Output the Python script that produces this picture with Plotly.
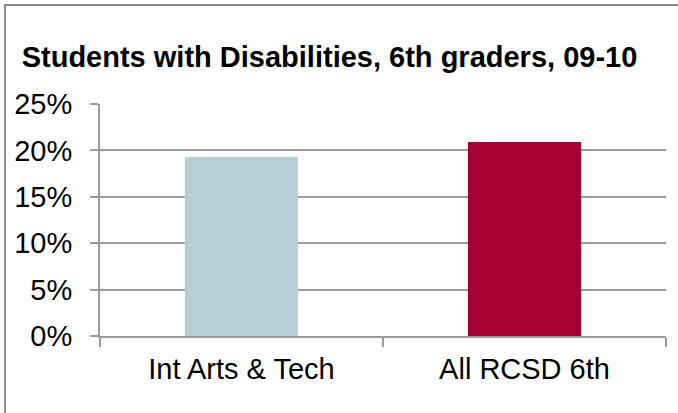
import plotly.graph_objects as go

# Share of 6th graders who are students with disabilities, 2009-10
categories = ["Int Arts & Tech", "All RCSD 6th"]
shares = [0.193, 0.209]
bar_colors = ["#B4CFD5", "#A50034"]
y_ticks = [0, 0.05, 0.10, 0.15, 0.20, 0.25]

W, H = 678, 413
GRID = "#9B9B9B"
FONT = "Liberation Sans, Arial, sans-serif"
FS = 29

fig = go.Figure(
    go.Bar(
        x=categories,
        y=shares,
        marker=dict(color=bar_colors, line=dict(width=0)),
        width=0.4,
        hoverinfo="x+y",
    )
)

fig.update_layout(
    width=W,
    height=H,
    margin=dict(l=100, r=12, t=104, b=77, pad=0),
    paper_bgcolor="white",
    plot_bgcolor="white",
    font=dict(family=FONT, size=FS, color="#000000"),
    showlegend=False,
    title=dict(
        text="<b>Students with Disabilities, 6th graders, 09-10</b>",
        font=dict(family=FONT, size=FS, color="#000000"),
        x=329.5 / W,
        xanchor="center",
        y=1 - 57 / H,
        yanchor="middle",
        xref="container",
        yref="container",
    ),
    shapes=[
        # outer chart frame (only its top and left edges fall inside the page)
        dict(
            type="rect",
            xref="paper",
            yref="paper",
            x0=(5 - 100) / 566,
            x1=(720 - 100) / 566,
            y0=(336 - 460) / 232,
            y1=(336 - 5) / 232,
            line=dict(color="#8C8C8C", width=2),
            fillcolor="rgba(0,0,0,0)",
            layer="below",
        )
    ],
)

fig.update_xaxes(
    type="category",
    showline=True,
    linecolor=GRID,
    linewidth=2,
    ticks="outside",
    ticklen=9,
    tickwidth=2,
    tickcolor=GRID,
    tickson="boundaries",
    showgrid=False,
    ticklabelstandoff=6,
    tickfont=dict(family=FONT, size=FS, color="#000000"),
)

fig.update_yaxes(
    range=[0, 0.25],
    tickvals=y_ticks,
    tickformat=".0%",
    showline=True,
    linecolor=GRID,
    linewidth=2,
    ticks="outside",
    ticklen=8,
    tickwidth=2,
    tickcolor=GRID,
    showgrid=True,
    gridcolor=GRID,
    gridwidth=2,
    zeroline=False,
    ticklabelstandoff=12,
    tickfont=dict(family=FONT, size=FS, color="#000000"),
)

fig.write_html("out.html")
